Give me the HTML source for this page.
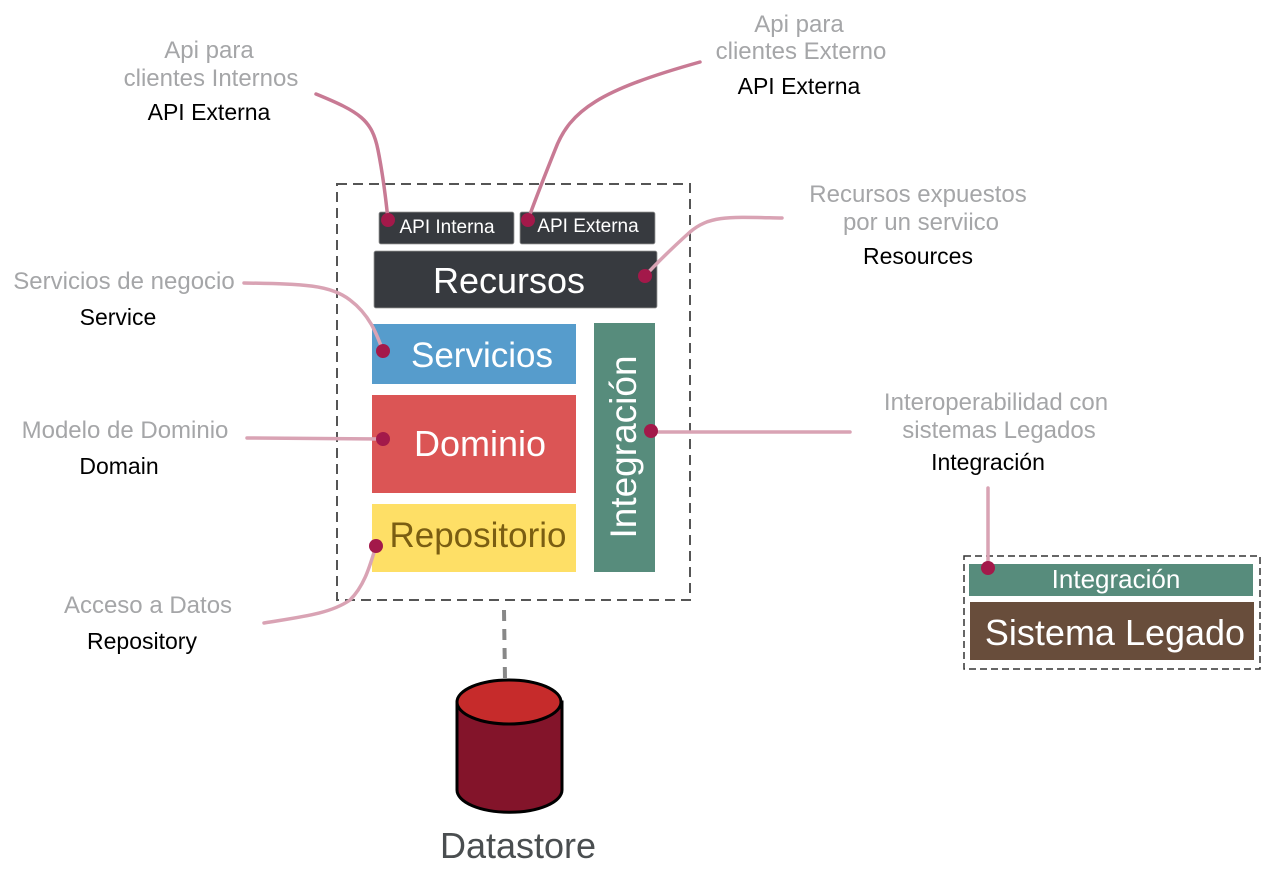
<!DOCTYPE html>
<html><head><meta charset="utf-8"><style>
html,body{margin:0;padding:0;background:#fff;}
svg{display:block;font-family:"Liberation Sans",sans-serif;}
</style></head><body>
<svg width="1270" height="876" viewBox="0 0 1270 876" xmlns="http://www.w3.org/2000/svg">
<rect x="337" y="184" width="353" height="416" fill="none" stroke="#555" stroke-width="2" stroke-dasharray="10,6"/>
<rect x="379" y="212" width="135" height="32" rx="2" fill="#373a3f" stroke="#999" stroke-width="0.8"/>
<text x="447" y="233" font-size="19" fill="#fff" text-anchor="middle">API Interna</text>
<rect x="520" y="212" width="135" height="32" rx="2" fill="#373a3f" stroke="#999" stroke-width="0.8"/>
<text x="588" y="232" font-size="19" fill="#fff" text-anchor="middle">API Externa</text>
<rect x="374" y="251" width="283" height="57" rx="2" fill="#373a3f" stroke="#999" stroke-width="0.8"/>
<text x="509" y="293" font-size="36" fill="#fff" text-anchor="middle">Recursos</text>
<rect x="372" y="324" width="204" height="60" fill="#569ccc"/>
<text x="482" y="367" font-size="35" fill="#fff" text-anchor="middle">Servicios</text>
<rect x="372" y="395" width="204" height="98" fill="#db5555"/>
<text x="480" y="456" font-size="36" fill="#fff" text-anchor="middle">Dominio</text>
<rect x="372" y="504" width="204" height="68" fill="#fedf66"/>
<text x="478" y="547" font-size="35" fill="#7a5e12" text-anchor="middle">Repositorio</text>
<rect x="594" y="323" width="61" height="249" fill="#578c7c"/>
<text transform="translate(636,447) rotate(-90)" font-size="37" fill="#fff" text-anchor="middle">Integración</text>
<rect x="964" y="556" width="296" height="113" fill="none" stroke="#333" stroke-width="1.5" stroke-dasharray="7,4"/>
<rect x="969" y="564" width="284" height="32" fill="#578c7c"/>
<text x="1116" y="588" font-size="26" fill="#fff" text-anchor="middle">Integración</text>
<rect x="970" y="602" width="284" height="58" fill="#684d3b"/>
<text x="1115" y="645" font-size="36" fill="#fff" text-anchor="middle">Sistema Legado</text>
<line x1="504" y1="610" x2="505" y2="680" stroke="#888" stroke-width="4" stroke-dasharray="11,8"/>
<path d="M457 702 L457 790 A52 22 0 0 0 562 790 L562 702 Z" fill="#83142a" stroke="#000" stroke-width="3"/>
<ellipse cx="509" cy="702" rx="52" ry="22" fill="#c62b2b" stroke="#000" stroke-width="3"/>
<text x="518" y="858" font-size="36" fill="#4a4e50" text-anchor="middle">Datastore</text>
<g fill="none" stroke-width="3.5" stroke-linecap="round">
<path d="M316 94 C360 112 372 120 378 150 C383 175 386 200 388 220" stroke="#c87a94"/>
<path d="M700 62 C600 90 570 110 555 150 C545 175 535 200 528 220" stroke="#c87a94"/>
<path d="M782 218 C730 217 710 215 690 232 C670 250 655 265 645 276" stroke="#d9a3b4"/>
<path d="M244 283 C300 284 330 284 350 300 C370 315 377 335 383 351" stroke="#d9a3b4"/>
<path d="M247 438 L383 439" stroke="#d9a3b4"/>
<path d="M264 623 C300 617 330 614 350 600 C365 585 370 565 376 546" stroke="#d9a3b4"/>
<path d="M651 432 L850 432" stroke="#d9a3b4"/>
<path d="M988 488 L988 568" stroke="#d9a3b4"/>
</g>
<g fill="#a3194a">
<circle cx="388" cy="220" r="7"/><circle cx="528" cy="220" r="7"/>
<circle cx="645" cy="276" r="7"/><circle cx="383" cy="351" r="7"/>
<circle cx="383" cy="439" r="7"/><circle cx="376" cy="546" r="7"/>
<circle cx="651" cy="431" r="7"/><circle cx="988" cy="568" r="7"/>
</g>
<g font-size="24" text-anchor="middle" fill="#a5a6a8">
<text x="209" y="58">Api para</text>
<text x="211" y="86">clientes Internos</text>
<text x="799" y="32">Api para</text>
<text x="801" y="59">clientes Externo</text>
<text x="918" y="202">Recursos expuestos</text>
<text x="921" y="230">por un serviico</text>
<text x="124" y="289">Servicios de negocio</text>
<text x="125" y="438">Modelo de Dominio</text>
<text x="148" y="613">Acceso a Datos</text>
<text x="996" y="410">Interoperabilidad con</text>
<text x="999" y="438">sistemas Legados</text>
</g>
<g font-size="23" text-anchor="middle" fill="#000">
<text x="209" y="120">API Externa</text>
<text x="799" y="94">API Externa</text>
<text x="918" y="264">Resources</text>
<text x="118" y="325">Service</text>
<text x="119" y="474">Domain</text>
<text x="142" y="649">Repository</text>
<text x="988" y="470">Integración</text>
</g>
</svg>
</body></html>
